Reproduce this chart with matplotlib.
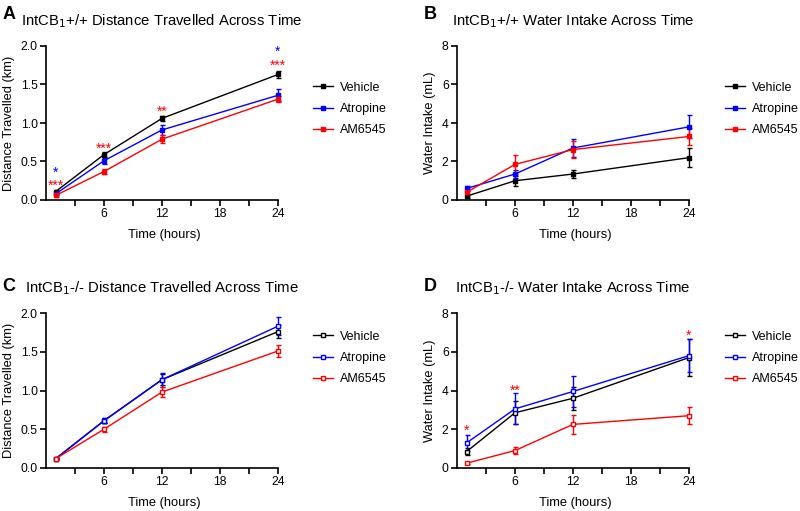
import numpy as np
import matplotlib
matplotlib.use("Agg")
import matplotlib.pyplot as plt
from matplotlib.lines import Line2D
from matplotlib.ticker import FormatStrFormatter

plt.rcParams['font.family'] = ['Liberation Sans', 'DejaVu Sans']

hours = [1, 6, 12, 24]
groups = ['Vehicle', 'Atropine', 'AM6545']
colors = ['black', 'blue', 'red']

# panel A: IntCB1+/+ distance (km)
distA = [[0.11, 0.59, 1.06, 1.63], [0.08, 0.51, 0.91, 1.36], [0.06, 0.37, 0.79, 1.31]]
distA_err = [[0.02, 0.03, 0.03, 0.05], [0.02, 0.04, 0.07, 0.08], [0.02, 0.03, 0.05, 0.04]]
# panel B: IntCB1+/+ water (mL)
waterB = [[0.2, 1.0, 1.35, 2.2], [0.6, 1.35, 2.7, 3.8], [0.4, 1.85, 2.62, 3.3]]
waterB_err = [[0.1, 0.25, 0.22, 0.5], [0.15, 0.2, 0.45, 0.6], [0.2, 0.5, 0.45, 0.45]]
# panel C: IntCB1-/- distance (km)
distC = [[0.12, 0.61, 1.14, 1.76], [0.12, 0.61, 1.14, 1.83], [0.12, 0.50, 0.98, 1.51]]
distC_err = [[0.01, 0.03, 0.07, 0.08], [0.01, 0.03, 0.09, 0.12], [0.01, 0.03, 0.06, 0.08]]
# panel D: IntCB1-/- water (mL)
waterD = [[0.85, 2.85, 3.6, 5.7], [1.3, 3.05, 3.95, 5.8], [0.25, 0.9, 2.25, 2.7]]
waterD_err = [[0.2, 0.6, 0.6, 0.95], [0.4, 0.8, 0.8, 0.85], [0.05, 0.2, 0.5, 0.45]]

# significance marks: (x, y, text, color)
starsA = [(1, 0.355, '*', 'blue'), (1, 0.18, '***', 'red'), (6, 0.66, '***', 'red'),
          (12, 1.14, '**', 'red'), (24, 1.92, '*', 'blue'), (24, 1.74, '***', 'red')]
starsD = [(1, 1.9, '*', 'red'), (6, 4.0, '**', 'red'), (24, 6.8, '*', 'red')]

fig = plt.figure(figsize=(8, 5.11), dpi=100)
W, H = 800, 511
PX = 232 / 24.0  # pixels per hour

def make_ax(left, top, bottom):
    right = left + PX * 24.4
    return fig.add_axes([left / W, 1 - bottom / H, (right - left) / W, (bottom - top) / H])

def draw(ax, data, err, filled, ylim, yticks, ylabel, title, letter, letter_xy,
         leg_xy, stars=None):
    handles = []
    for vals, e, name, c in zip(data, err, groups, colors):
        mfc = c if filled else 'white'
        ax.errorbar(hours, vals, yerr=e, color=c, lw=1, marker='s', ms=3.5,
                    mfc=mfc, mec=c, mew=1,
                    capsize=1.8, elinewidth=1, capthick=1)
        handles.append(Line2D([], [], color=c, lw=1, marker='s', ms=3.5,
                              mfc=mfc, mec=c, mew=1, label=name))
    ax.set_xlim(0, 24.4)
    ax.spines['bottom'].set_bounds(0, 24)
    ax.set_ylim(*ylim)
    ax.set_yticks(yticks)
    ax.set_xticks([6, 12, 18, 24])
    ax.set_xticks([3, 9, 15, 21], minor=True)
    ax.tick_params(labelsize=8.7, width=1.2, length=4, pad=2)
    ax.tick_params(which='minor', width=1.2, length=4)
    for s in ['top', 'right']:
        ax.spines[s].set_visible(False)
    for s in ['left', 'bottom']:
        ax.spines[s].set_linewidth(1.2)
    ax.set_ylabel(ylabel, fontsize=9.3, labelpad=4)
    ax.set_xlabel('Time (hours)', fontsize=9.3, labelpad=6)
    ax.text(12, ylim[1], title, fontsize=10.7, ha='center', va='baseline',
            transform=ax.transData + matplotlib.transforms.ScaledTranslation(0, 21 / 100, fig.dpi_scale_trans))
    fig.text(letter_xy[0] / W, 1 - letter_xy[1] / H, letter, fontsize=13,
             fontweight='bold', ha='center', va='baseline')
    if stars:
        for x, y, t, c in stars:
            ax.text(x, y, t, color=c, ha='center', va='center', fontsize=10)
    ax.legend(handles=handles, loc='center left',
              bbox_to_anchor=(leg_xy[0] / W, 1 - leg_xy[1] / H),
              bbox_transform=fig.transFigure, borderaxespad=0, borderpad=0,
              frameon=False, fontsize=9, handlelength=1.6, handletextpad=0.55,
              labelspacing=0.75)

axA = make_ax(46, 46, 200)
draw(axA, distA, distA_err, True, (0, 2.0), [0, 0.5, 1.0, 1.5, 2.0],
     'Distance Travelled (km)', r'IntCB$_1$+/+ Distance Travelled Across Time',
     'A', (9, 19), (313, 109), starsA)
axA.yaxis.set_major_formatter(FormatStrFormatter('%.1f'))

axB = make_ax(457, 46, 200)
draw(axB, waterB, waterB_err, True, (0, 8), [0, 2, 4, 6, 8],
     'Water Intake (mL)', r'IntCB$_1$+/+ Water Intake Across Time',
     'B', (430, 19), (725, 109))

axC = make_ax(46, 313, 468)
draw(axC, distC, distC_err, False, (0, 2.0), [0, 0.5, 1.0, 1.5, 2.0],
     'Distance Travelled (km)', r'IntCB$_1$-/- Distance Travelled Across Time',
     'C', (9, 291), (313, 358))
axC.yaxis.set_major_formatter(FormatStrFormatter('%.1f'))

axD = make_ax(457, 313, 468)
draw(axD, waterD, waterD_err, False, (0, 8), [0, 2, 4, 6, 8],
     'Water Intake (mL)', r'IntCB$_1$-/- Water Intake Across Time',
     'D', (430, 291), (725, 358), starsD)

fig.savefig('out.png', dpi=100)
